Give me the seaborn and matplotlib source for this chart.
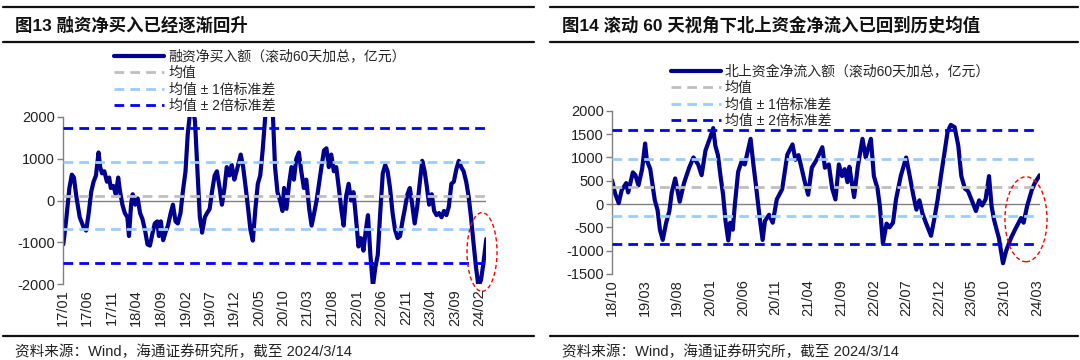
import pandas as pd
import matplotlib.pyplot as plt
import matplotlib.dates as mdates
import seaborn as sns
from matplotlib.lines import Line2D
from matplotlib.patches import Ellipse

sns.set_theme(style="white")
plt.rcParams["font.family"] = ["Liberation Sans", "Noto Sans CJK SC"]
plt.rcParams["axes.unicode_minus"] = False

# 融资净买入额（滚动60天加总，亿元）
margin_dates = [
    "2017-01-03", "2017-01-20", "2017-02-10", "2017-02-25", "2017-03-10", "2017-03-25",
    "2017-04-15", "2017-05-10", "2017-05-25", "2017-06-10", "2017-06-25", "2017-07-10",
    "2017-07-25", "2017-08-10", "2017-08-20", "2017-09-01", "2017-09-15", "2017-10-01",
    "2017-10-15", "2017-10-25", "2017-11-10", "2017-11-25", "2017-12-10", "2017-12-20",
    "2018-01-05", "2018-01-20", "2018-02-05", "2018-02-15", "2018-02-28", "2018-03-10",
    "2018-03-25", "2018-04-10", "2018-04-25", "2018-05-10", "2018-05-25", "2018-06-10",
    "2018-06-25", "2018-07-10", "2018-07-25", "2018-08-10", "2018-08-20", "2018-09-01",
    "2018-09-15", "2018-10-01", "2018-10-15", "2018-11-01", "2018-11-15", "2018-12-01",
    "2018-12-15", "2019-01-01", "2019-01-15", "2019-02-01", "2019-02-15", "2019-03-01",
    "2019-03-15", "2019-04-01", "2019-04-15", "2019-05-01", "2019-05-15", "2019-06-01",
    "2019-06-15", "2019-07-01", "2019-07-15", "2019-08-01", "2019-08-15", "2019-09-01",
    "2019-09-15", "2019-10-01", "2019-10-15", "2019-11-01", "2019-11-15", "2019-12-01",
    "2019-12-15", "2020-01-10", "2020-01-25", "2020-02-10", "2020-02-25", "2020-03-10",
    "2020-03-25", "2020-04-10", "2020-04-25", "2020-05-10", "2020-05-25", "2020-06-10",
    "2020-06-25", "2020-07-10", "2020-07-25", "2020-08-10", "2020-08-25", "2020-09-10",
    "2020-09-25", "2020-10-05", "2020-10-20", "2020-11-05", "2020-11-20", "2020-12-05",
    "2020-12-20", "2021-01-05", "2021-01-20", "2021-02-05", "2021-02-20", "2021-03-10",
    "2021-03-25", "2021-04-10", "2021-04-25", "2021-05-10", "2021-05-25", "2021-06-10",
    "2021-06-25", "2021-07-10", "2021-07-25", "2021-08-10", "2021-08-25", "2021-09-10",
    "2021-09-25", "2021-10-10", "2021-10-25", "2021-11-10", "2021-11-25", "2021-12-10",
    "2021-12-25", "2022-01-10", "2022-01-25", "2022-02-10", "2022-02-25", "2022-03-10",
    "2022-03-25", "2022-04-10", "2022-04-25", "2022-05-10", "2022-05-25", "2022-06-10",
    "2022-06-25", "2022-07-10", "2022-07-25", "2022-08-10", "2022-08-25", "2022-09-10",
    "2022-09-25", "2022-10-10", "2022-10-25", "2022-11-10", "2022-11-25", "2022-12-10",
    "2022-12-25", "2023-01-10", "2023-01-25", "2023-02-10", "2023-02-25", "2023-03-10",
    "2023-03-25", "2023-04-10", "2023-04-25", "2023-05-10", "2023-05-25", "2023-06-10",
    "2023-06-25", "2023-07-10", "2023-07-25", "2023-08-10", "2023-08-25", "2023-09-10",
    "2023-09-25", "2023-10-10", "2023-10-25", "2023-11-10", "2023-11-25", "2023-12-10",
    "2023-12-25", "2024-01-10", "2024-01-25", "2024-02-10", "2024-02-25", "2024-03-14",
]
margin_vals = [
    -1050, -500, 300, 620, 550, 100,
    -400, -650, -720, -300, 200, 450,
    600, 1150, 800, 650, 700, 450,
    550, 300, 350, 150, 550, 250,
    -100, -300, -400, -850, -100, 150,
    -100, 50, -300, -450, -700, -1050,
    -1080, -800, -550, -500, -850, -500,
    -950, -750, -600, -300, -100, -500,
    -550, -300, 200, 700, 1600, 2100,
    2300, 1900, 800, -400, -770, -400,
    -300, -200, 200, 600, 700, 300,
    -100, 300, 800, 600, 850, 500,
    700, 1100, 800, 300, -200, -700,
    -960, -200, 400, 600, 1200, 2000,
    2400, 2500, 2300, 800, 200, 0,
    -250, 300, -200, 400, 800, 500,
    1000, 1150, 700, 300, 500, -200,
    -600, -300, 0, 400, 800, 1200,
    1250, 800, 1100, 700, 800, 300,
    -200, -600, 100, 400, 0, 200,
    -400, -1100, -900, -1200, -700, -350,
    -1300, -2050, -1600, -1300, -300, 650,
    850, 700, 300, -300, -700, -900,
    -850, -500, -200, 150, 300, -100,
    -550, -150, 400, 950, 700, 350,
    -100, 150, -250, -350, -300, -400,
    -250, -350, -150, 400, 450, 750,
    950, 800, 700, 450, 100, -400,
    -1000, -1600, -2050, -1900, -1500, -920,
]

# 北上资金净流入额（滚动60天加总，亿元）
north_dates = [
    "2018-10-01", "2018-10-15", "2018-11-01", "2018-11-15", "2018-12-06", "2018-12-15",
    "2019-01-06", "2019-01-18", "2019-02-01", "2019-02-18", "2019-03-04", "2019-03-12",
    "2019-03-28", "2019-04-08", "2019-04-18", "2019-05-01", "2019-05-12", "2019-05-25",
    "2019-06-10", "2019-06-25", "2019-07-06", "2019-07-22", "2019-08-12", "2019-09-01",
    "2019-09-25", "2019-10-15", "2019-11-06", "2019-11-22", "2019-12-10", "2020-01-01",
    "2020-01-15", "2020-01-25", "2020-02-06", "2020-02-18", "2020-03-01", "2020-03-12",
    "2020-03-25", "2020-04-03", "2020-04-15", "2020-04-25", "2020-05-10", "2020-05-25",
    "2020-06-10", "2020-07-07", "2020-07-20", "2020-08-01", "2020-08-18", "2020-09-01",
    "2020-09-12", "2020-10-01", "2020-10-18", "2020-11-06", "2020-12-01", "2020-12-15",
    "2020-12-25", "2021-01-18", "2021-02-01", "2021-02-15", "2021-03-01", "2021-03-15",
    "2021-04-01", "2021-04-18", "2021-05-10", "2021-06-06", "2021-06-18", "2021-07-06",
    "2021-07-22", "2021-08-06", "2021-08-22", "2021-09-06", "2021-09-18", "2021-10-01",
    "2021-10-10", "2021-10-18", "2021-11-01", "2021-11-18", "2021-12-10", "2021-12-25",
    "2022-01-18", "2022-02-01", "2022-02-18", "2022-03-01", "2022-03-15", "2022-04-01",
    "2022-04-15", "2022-05-01", "2022-05-15", "2022-06-06", "2022-07-01", "2022-07-18",
    "2022-08-03", "2022-08-18", "2022-09-01", "2022-09-15", "2022-10-01", "2022-10-25",
    "2022-11-10", "2022-11-25", "2022-12-10", "2022-12-25", "2023-01-10", "2023-01-25",
    "2023-02-12", "2023-03-01", "2023-03-15", "2023-04-01", "2023-04-15", "2023-05-01",
    "2023-05-22", "2023-06-06", "2023-06-20", "2023-07-06", "2023-07-22", "2023-08-03",
    "2023-08-15", "2023-09-06", "2023-09-25", "2023-10-10", "2023-11-01", "2023-11-20",
    "2023-12-18", "2023-12-30", "2024-01-15", "2024-02-06", "2024-02-20", "2024-03-14",
]
north_vals = [
    510, 230, 20, 300, 450, 250,
    680, 620, 400, 750, 1300, 940,
    750, 400, 85, -130, -550, -770,
    -400, -150, 250, 550, 50, 450,
    780, 1000, 850, 620, 1150, 1430,
    1630, 1250, 1050, 600, 200, -350,
    -780, -400, -550, 0, 690, 900,
    850, 1400, 850, 400, -280, -770,
    -360, -230, -400, 100, 320, 750,
    1060, 1280, 950, 1050, 780, 500,
    200, 780, 950, 1220, 780, 850,
    330, 100, 850, 600, 750, 470,
    800, 560, 150, 800, 1400, 1000,
    1400, 600, 330, -50, -850, -420,
    -500, -400, 100, 600, 1000, 600,
    200, -120, 80, -200, -400, -680,
    -300, 100, 600, 1050, 1550, 1700,
    1650, 1250, 600, 330, 280, 100,
    -150, 80, -30, 100, 600, -50,
    -350, -730, -1270, -1000, -730, -550,
    -300, -400, -50, 300, 450, 620,
]

# 均值 / 标准差
margin_mean, margin_std = 120, 810
north_mean, north_std = 362, 610

legend_labels_left = ["融资净买入额（滚动60天加总，亿元）", "均值", "均值 ± 1倍标准差", "均值 ± 2倍标准差"]
legend_labels_right = ["北上资金净流入额（滚动60天加总，亿元）", "均值", "均值 ± 1倍标准差", "均值 ± 2倍标准差"]
titles = ["图13 融资净买入已经逐渐回升", "图14 滚动 60 天视角下北上资金净流入已回到历史均值"]
source = "资料来源：Wind，海通证券研究所，截至 2024/3/14"

NAVY = "#000090"
GRAY = "#BFBFBF"
LIGHT = "#99CCFF"
BLUE = "#0000FF"
DASH = (3.5, 2.2)

fig = plt.figure(figsize=(10.8, 3.6), dpi=100)


def draw_panel(ax, dates, vals, mean, std, ylim, yticks, xstart, xend, tick_start, tick_end):
    df = pd.DataFrame({"date": pd.to_datetime(dates), "value": vals})
    sns.lineplot(data=df, x="date", y="value", ax=ax, color=NAVY, lw=3, zorder=2)
    ax.axhline(0, color="#808080", lw=1, zorder=1)
    ax.axhline(mean, color=GRAY, lw=2, dashes=DASH, zorder=3)
    for k, c in [(1, LIGHT), (2, BLUE)]:
        ax.axhline(mean + k * std, color=c, lw=2, dashes=DASH, zorder=3)
        ax.axhline(mean - k * std, color=c, lw=2, dashes=DASH, zorder=3)
    ax.set_ylim(*ylim)
    ax.set_yticks(yticks)
    ax.set_xlim(pd.Timestamp(xstart), pd.Timestamp(xend))
    ticks = pd.date_range(tick_start, tick_end, freq="5MS")
    ax.set_xticks(ticks)
    ax.xaxis.set_major_formatter(mdates.DateFormatter("%y/%m"))
    ax.tick_params(axis="x", rotation=90, length=0, labelsize=10.5, pad=4, colors="#222222")
    ax.tick_params(axis="y", left=True, length=4, width=1, color="#808080", labelsize=10.5, pad=2, colors="#222222")
    ax.set_xlabel("")
    ax.set_ylabel("")
    for s in ["top", "right", "bottom"]:
        ax.spines[s].set_visible(False)
    ax.spines["left"].set_color("#808080")
    ax.spines["left"].set_linewidth(1)
    ax.set_facecolor("none")


ax1 = fig.add_axes([0.0583, 0.211, 0.392, 0.464])
draw_panel(ax1, margin_dates, margin_vals, margin_mean, margin_std, (-2000, 2000),
           [-2000, -1000, 0, 1000, 2000], "2017-01-01", "2024-03-14", "2017-01-01", "2024-02-01")

ax2 = fig.add_axes([0.5667, 0.239, 0.396, 0.453])
draw_panel(ax2, north_dates, north_vals, north_mean, north_std, (-1500, 2000),
           list(range(-1500, 2001, 500)), "2018-10-01", "2024-03-14", "2018-10-01", "2024-03-01")


def legend_handles():
    return [
        Line2D([], [], color=NAVY, lw=3),
        Line2D([], [], color=GRAY, lw=2, dashes=DASH),
        Line2D([], [], color=LIGHT, lw=2, dashes=DASH),
        Line2D([], [], color=BLUE, lw=2, dashes=DASH),
    ]


fig.legend(legend_handles(), legend_labels_left, loc="upper left", bbox_to_anchor=(0.106, 0.862),
           frameon=False, fontsize=10, handlelength=3.6, handletextpad=0.3, labelspacing=0.18,
           borderaxespad=0, borderpad=0)
fig.legend(legend_handles(), legend_labels_right, loc="upper left", bbox_to_anchor=(0.621, 0.82),
           frameon=False, fontsize=10, handlelength=3.6, handletextpad=0.3, labelspacing=0.18,
           borderaxespad=0, borderpad=0)

# 标题、分隔线和资料来源
for x0, x1, tx, title in [(0.003, 0.494, 0.014, titles[0]), (0.509, 0.998, 0.52, titles[1])]:
    for yy, lw in [(0.981, 1.6), (0.883, 1.6), (0.067, 1.6)]:
        fig.add_artist(Line2D([x0, x1], [yy, yy], color="#111111", lw=lw, transform=fig.transFigure))
    fig.text(tx, 0.932, title, fontsize=12.5, fontweight="bold", va="center", ha="left", color="#111111")
    fig.text(tx, 0.022, source, fontsize=10.5, va="center", ha="left", color="#222222")

# 红色虚线椭圆
for cx, cy, w, h in [(0.4463, 0.30, 0.0278, 0.219), (0.950, 0.391, 0.039, 0.236)]:
    fig.add_artist(Ellipse((cx, cy), w, h, transform=fig.transFigure, fill=False,
                           edgecolor="red", lw=1, linestyle=(0, (3, 2)), zorder=5))

fig.savefig("out.png", dpi=100)
